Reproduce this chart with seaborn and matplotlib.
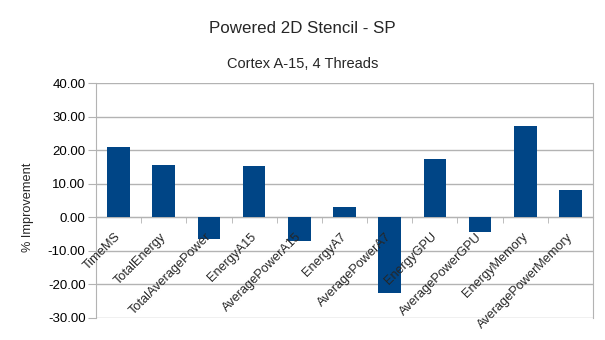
import matplotlib
matplotlib.use("Agg")
import matplotlib.pyplot as plt
import matplotlib.transforms as mtransforms
import seaborn as sns
import numpy as np
from matplotlib.ticker import FormatStrFormatter, FixedLocator

categories = ["TimeMS", "TotalEnergy", "TotalAveragePower", "EnergyA15",
              "AveragePowerA15", "EnergyA7", "AveragePowerA7", "EnergyGPU",
              "AveragePowerGPU", "EnergyMemory", "AveragePowerMemory"]
values = [20.9, 15.7, -6.5, 15.2, -7.2, 3.0, -22.5, 17.3, -4.4, 27.1, 8.0]
y_ticks = [-30, -20, -10, 0, 10, 20, 30, 40]

sns.set_style("white")
plt.rcParams['font.family'] = ['Liberation Sans', 'DejaVu Sans']

fig = plt.figure(figsize=(6.05, 3.4), dpi=100)
ax = fig.add_axes([96/605, 1-318/340, (593-96)/605, (318-83)/340])

sns.barplot(x=categories, y=values, color="#004586", width=0.5, ax=ax,
            saturation=1, edgecolor="#004586", linewidth=0, zorder=1)

grid_c = "#b3b3b3"
ax.set_ylim(-30, 40)
ax.set_xlim(-0.5, len(categories) - 0.5)
ax.set_yticks(y_ticks)
ax.yaxis.set_major_formatter(FormatStrFormatter("%.2f"))
ax.grid(False)
for t in y_ticks:
    ax.axhline(t, color=grid_c, linewidth=1, zorder=0)
ax.set_axisbelow(False)

ax.spines["top"].set_visible(False)
ax.spines["left"].set_color(grid_c)
ax.spines["right"].set_color(grid_c)
ax.spines["bottom"].set_color(grid_c)
ax.spines["bottom"].set_position(("data", 0))
for s in ax.spines.values():
    s.set_zorder(0.5)

ax.tick_params(axis="y", which="major", length=5.5, color=grid_c, labelsize=9.5,
               labelcolor="black", pad=2, left=True)
ax.set_xticks(range(len(categories)))
ax.set_xticklabels(categories, rotation=45, ha="right", va="top",
                   rotation_mode="anchor", fontsize=9.2)
ax.xaxis.set_minor_locator(FixedLocator(np.arange(0.5, len(categories) - 1, 1)))
ax.tick_params(axis="x", which="major", length=0, pad=4, bottom=True)
ax.tick_params(axis="x", which="minor", length=4.3, color=grid_c, bottom=True)
ax.set_xlabel("")
ax.set_ylabel("")

offset = mtransforms.ScaledTranslation(-4/100, -8/100, fig.dpi_scale_trans)
for lab in ax.get_xticklabels():
    lab.set_transform(lab.get_transform() + offset)

fig.text(0.5, 1 - 33/340, "Powered 2D Stencil - SP", ha="center", va="baseline", fontsize=12.2)
fig.text(0.5, 1 - 68/340, "Cortex A-15, 4 Threads", ha="center", va="baseline", fontsize=10.5)
fig.text(28/605, 1 - 207.5/340, "% Improvement", ha="center", va="center",
         rotation=90, fontsize=9.2)

fig.savefig("out.png", dpi=100)
